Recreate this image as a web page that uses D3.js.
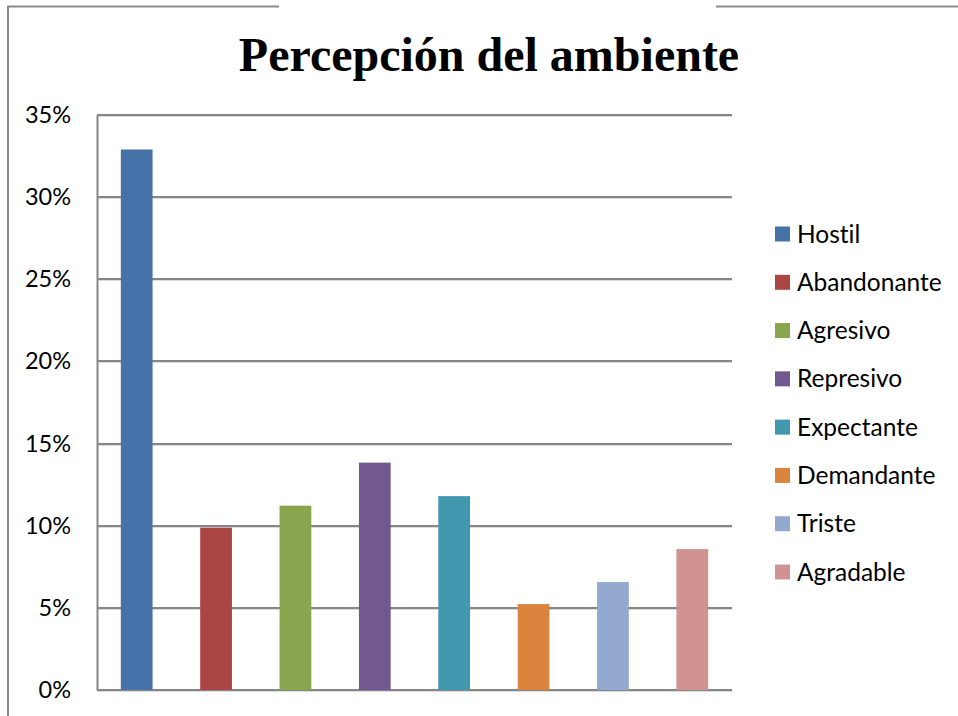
<!DOCTYPE html>
<html><head><meta charset="utf-8">
<script src="https://cdn.jsdelivr.net/npm/d3@7"></script>
<style>body{margin:0;background:#fff;} svg{display:block;} text{font-variant-ligatures:none;}</style>
</head><body>
<svg id="c" width="958" height="716"></svg>
<script>
const categories = ["Hostil","Abandonante","Agresivo","Represivo","Expectante","Demandante","Triste","Agradable"];
const values = [0.329, 0.0988, 0.1122, 0.1384, 0.118, 0.0523, 0.0657, 0.0858];
const colors = ["#4572A7","#AA4643","#89A54E","#71588F","#4198AF","#DB843D","#93A9CF","#D19392"];
const yTicks = [0,0.05,0.10,0.15,0.20,0.25,0.30,0.35];
const title = "Percepción del ambiente";

const svg = d3.select("#c");
const m = {l:97, r:732, t:115, b:690};
const x = d3.scaleBand().domain(categories).range([m.l, m.r]).paddingInner(0.6).paddingOuter(0.3);
const y = d3.scaleLinear().domain([0,0.35]).range([m.b, m.t]);

// outer border fragments
svg.append("path").attr("d","M8,716 V6.5 H279").attr("fill","none").attr("stroke","#8a8a8a").attr("stroke-width",2);
svg.append("path").attr("d","M716,6.5 H958").attr("fill","none").attr("stroke","#8a8a8a").attr("stroke-width",2);

// title
svg.append("text").attr("x",489).attr("y",71).attr("text-anchor","middle")
  .attr("font-family","'Liberation Serif','Times New Roman',serif").attr("font-weight","bold")
  .attr("font-size",48).text(title);

// gridlines
const g = svg.append("g");
g.selectAll("line.grid").data(yTicks).join("line")
  .attr("x1",m.l).attr("x2",m.r).attr("y1",d=>Math.round(y(d))+1.5).attr("y2",d=>Math.round(y(d))+1.5)
  .attr("stroke","#dcdcdc").attr("stroke-width",1);
g.selectAll("line.grid2").data(yTicks).join("line")
  .attr("x1",m.l).attr("x2",m.r).attr("y1",d=>Math.round(y(d))).attr("y2",d=>Math.round(y(d)))
  .attr("stroke","#868686").attr("stroke-width",2);

// y axis
const yAxis = d3.axisLeft(y).tickValues(yTicks).tickFormat(d3.format(".0%")).tickSize(0).tickPadding(26);
const ya = svg.append("g").attr("transform",`translate(${m.l},0)`).call(yAxis);
ya.select(".domain").attr("stroke","#868686").attr("stroke-width",2);
ya.selectAll("text").attr("font-family","Lato, 'Open Sans', sans-serif").attr("font-size",23.5).attr("fill","#000");

// bars
svg.append("g").selectAll("rect").data(categories).join("rect")
  .attr("x",d=>x(d)).attr("width",x.bandwidth())
  .attr("y",(d,i)=>y(values[i])).attr("height",(d,i)=>y(0)-y(values[i]))
  .attr("fill",(d,i)=>colors[i]);

// legend
const leg = svg.append("g").attr("transform","translate(775,0)");
const ly = d3.scalePoint().domain(categories).range([234,572]);
const li = leg.selectAll("g").data(categories).join("g").attr("transform",d=>`translate(0,${ly(d)})`);
li.append("rect").attr("x",0).attr("y",-7.5).attr("width",15).attr("height",15).attr("fill",(d,i)=>colors[i]);
li.append("text").attr("x",22).attr("y",0).attr("dy","0.35em")
  .attr("font-family","Lato, 'Open Sans', sans-serif").attr("font-size",24.5).attr("fill","#000").text(d=>d);
</script>
</body></html>
